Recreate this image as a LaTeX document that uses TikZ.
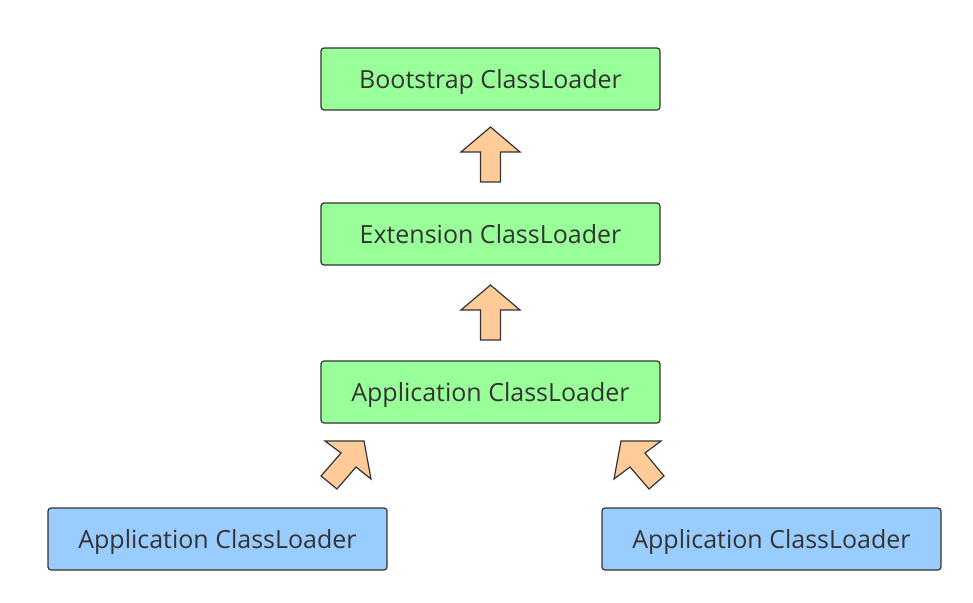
\documentclass[tikz,border=0pt]{standalone}
\usepackage{fontspec}
\setmainfont{Open Sans}
\usepackage{xcolor}
\definecolor{loadergreen}{HTML}{99FF99}
\definecolor{loaderblue}{HTML}{99CCFF}
\definecolor{arroworange}{HTML}{FFCC99}
\definecolor{linegray}{HTML}{333333}
\tikzset{
  loader/.style={shape=rectangle,draw=linegray,line width=1.2pt,rounded corners=3pt,
    minimum width=339pt,minimum height=62pt,text height=22pt,text depth=4pt,
    text=linegray,font=\fontsize{25}{28}\selectfont},
  blockarrow/.style={draw=linegray,line width=1.2pt,fill=arroworange,line join=miter}
}
\begin{document}
\begin{tikzpicture}[x=1pt,y=-1pt]
                    \useasboundingbox (0,0) rectangle (973,602);
                    \node[loader,fill=loadergreen] (boot) at (490.5,79) {Bootstrap ClassLoader};
                    \node[loader,fill=loadergreen] (ext) at (490.5,234) {Extension ClassLoader};
                    \node[loader,fill=loadergreen] (app) at (490.5,392) {Application ClassLoader};
                    \node[loader,fill=loaderblue] (appL) at (217.5,539) {Application ClassLoader};
                    \node[loader,fill=loaderblue] (appR) at (771.5,539) {Application ClassLoader};
                    
                    \draw[blockarrow] (490.5,127) -- (520,152) -- (500.5,152) -- (500.5,182) -- (480.5,182) -- (480.5,152) -- (461,152) -- cycle;
                    \draw[blockarrow] (490.5,285) -- (520,310) -- (500.5,310) -- (500.5,340) -- (480.5,340) -- (480.5,310) -- (461,310) -- cycle;
                    
                    \draw[blockarrow] (325,441) -- (364,441) -- (371,479) -- (356,467) -- (337,489) -- (321,476) -- (341,453) -- cycle;
                    \draw[blockarrow] (661,441) -- (621,441) -- (614,479) -- (630,467) -- (649,489) -- (664,476) -- (645,453) -- cycle;
                \end{tikzpicture}
\end{document}
